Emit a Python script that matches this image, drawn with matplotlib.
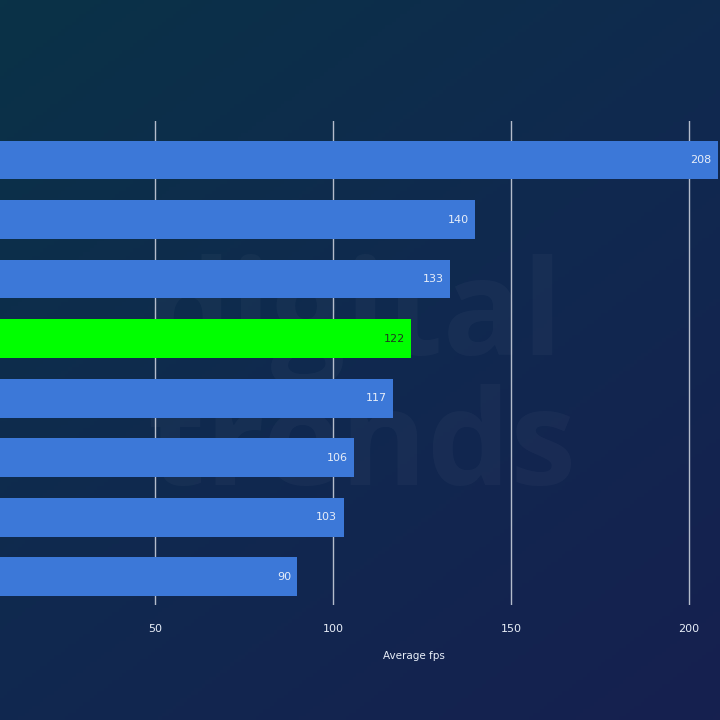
import numpy as np
import matplotlib.pyplot as plt
from matplotlib.colors import LinearSegmentedColormap

# values, top to bottom
values = [208, 140, 133, 122, 117, 106, 103, 90]
highlight = 3
xticks = [50, 100, 150, 200]
xlabel = "Average fps"

fig = plt.figure(figsize=(7.2, 7.2), dpi=100)

# background gradient, teal top-left to navy bottom-right
bg = fig.add_axes([0, 0, 1, 1])
yy, xx = np.mgrid[0:1:200j, 0:1:200j]
t = (xx * 0.6 + yy * 0.8) / 1.4
cmap = LinearSegmentedColormap.from_list("bg", ["#0a3247", "#10294f", "#16204f"])
bg.imshow(t, cmap=cmap, extent=[0, 1, 0, 1], aspect="auto", origin="upper")
bg.set_axis_off()

# faint watermark, sits behind the bars
bg.text(0.205, 0.507, "digital", fontsize=95, fontweight="bold", family="Open Sans",
        color="white", alpha=0.03, va="baseline", ha="left")
bg.text(0.205, 0.326, "trends", fontsize=95, fontweight="bold", family="Open Sans",
        color="white", alpha=0.03, va="baseline", ha="left")

ax = fig.add_axes([0, 0.16, 1, 0.672])
ax.patch.set_alpha(0)
y = np.arange(len(values))
colors = ["#00ff00" if i == highlight else "#3c78d8" for i in range(len(values))]
ax.barh(y, values, height=0.65, color=colors, zorder=2)

for i, v in enumerate(values):
    ax.text(v - 1.8, i, str(v), ha="right", va="center", fontsize=8,
            color="#1f3a1f" if i == highlight else "#e8eef8", zorder=3)

ax.set_xlim(6.5, 208.7)
ax.set_ylim(7.47, -0.655)
ax.set_xticks(xticks)
ax.set_yticks([])
for x in xticks:
    ax.axvline(x, color="#b4bccb", lw=1, zorder=1)
ax.tick_params(axis="x", length=0, pad=14, labelsize=8, labelcolor="#e8eef8")
for s in ax.spines.values():
    s.set_visible(False)
ax.set_xlabel(xlabel, fontsize=7.5, color="#e8eef8")
ax.xaxis.set_label_coords(0.575, -0.095)

fig.savefig("out.png", dpi=100)
